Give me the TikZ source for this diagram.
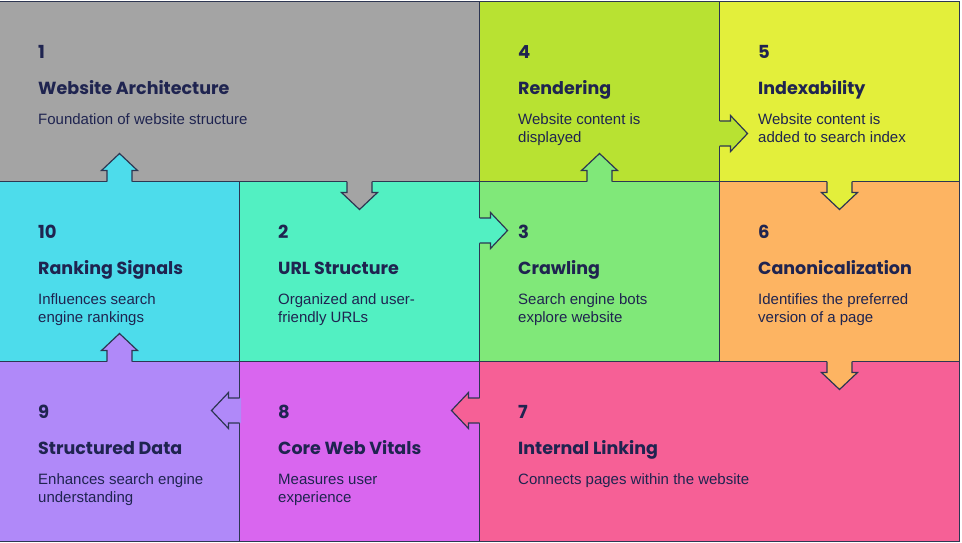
\documentclass[tikz,border=0pt]{standalone}
\usepackage{fontspec}
\setmainfont{Liberation Sans}
\newfontfamily\headfont{Poppins}
\usetikzlibrary{positioning,calc}
\definecolor{ink}{HTML}{1F2450}
\definecolor{edge}{HTML}{2D3652}
\definecolor{cgray}{HTML}{A4A4A4}
\definecolor{clime}{HTML}{B8E232}
\definecolor{cyellow}{HTML}{E3EF3B}
\definecolor{ccyan}{HTML}{4DDCEB}
\definecolor{cmint}{HTML}{52F0C2}
\definecolor{cgreen}{HTML}{80E879}
\definecolor{corange}{HTML}{FDB462}
\definecolor{clavender}{HTML}{B089F9}
\definecolor{cmagenta}{HTML}{D966EF}
\definecolor{cpink}{HTML}{F66096}

% block arrow crossing a cell border, base on the border
\newcommand{\tabarrow}[3]{%
  \fill[#3, shift={#1}, rotate=#2] (-1.5,12.5) -- (11,12.5) -- (11,18) -- (28,0)
    -- (11,-18) -- (11,-12.5) -- (-1.5,-12.5) -- cycle;
  \draw[edgeline, shift={#1}, rotate=#2] (0,12.5) -- (11,12.5) -- (11,18) -- (28,0)
    -- (11,-18) -- (11,-12.5) -- (0,-12.5);}

\begin{document}
\begin{tikzpicture}[x=1pt, y=-1pt,
  edgeline/.style={draw=edge, line width=1.2pt, line join=miter},
  cell/.style={edgeline, rectangle, inner sep=0pt, outer sep=0pt, minimum width=240pt, minimum height=180pt, anchor=north west},
  num/.style={anchor=base west, inner sep=0pt, text=ink, font=\headfont\bfseries\fontsize{18}{20}\selectfont},
  ttl/.style={anchor=base west, inner sep=0pt, text=ink, font=\headfont\bfseries\fontsize{17.5}{20}\selectfont},
  desc/.style={anchor=north west, inner sep=0pt, align=left, text=ink, font=\fontsize{15}{18}\selectfont},
]
  \useasboundingbox (0,0) rectangle (962,542);

  % cells
  \node[cell, fill=cgray, minimum width=480pt] (c1) at (-0.5,1.5) {};
  \node[cell, fill=clime] (c4) at (c1.north east) {};
  \node[cell, fill=cyellow] (c5) at (c4.north east) {};
  \node[cell, fill=ccyan] (c10) at (c1.south west) {};
  \node[cell, fill=cmint] (c2) at (c10.north east) {};
  \node[cell, fill=cgreen] (c3) at (c2.north east) {};
  \node[cell, fill=corange] (c6) at (c3.north east) {};
  \node[cell, fill=clavender] (c9) at (c10.south west) {};
  \node[cell, fill=cmagenta] (c8) at (c9.north east) {};
  \node[cell, fill=cpink, minimum width=480pt] (c7) at (c8.north east) {};

  % arrows between the steps
  \tabarrow{(c2.north)}{-90}{cgray}
  \tabarrow{($(c3.north west)+(0,49)$)}{0}{cmint}
  \tabarrow{(c3.north)}{90}{cgreen}
  \tabarrow{($(c5.north west)+(0,132)$)}{0}{clime}
  \tabarrow{(c6.north)}{-90}{cyellow}
  \tabarrow{(c6.south)}{-90}{corange}
  \tabarrow{($(c8.north east)+(0,49)$)}{180}{cpink}
  \tabarrow{($(c9.north east)+(0,49)$)}{180}{clavender}
  \tabarrow{(c10.south)}{90}{clavender}
  \tabarrow{(c10.north)}{90}{ccyan}

  % texts
  \foreach \c/\n/\t/\d in {
    c1/1/Website Architecture/{Foundation of website structure},
    c4/4/Rendering/{Website content is\\displayed},
    c5/5/Indexability/{Website content is\\added to search index},
    c10/10/Ranking Signals/{Influences search\\engine rankings},
    c2/2/URL Structure/{Organized and user-\\friendly URLs},
    c3/3/Crawling/{Search engine bots\\explore website},
    c6/6/Canonicalization/{Identifies the preferred\\version of a page},
    c9/9/Structured Data/{Enhances search engine\\understanding},
    c8/8/Core Web Vitals/{Measures user\\experience},
    c7/7/Internal Linking/{Connects pages within the website}} {
    \node[num] (\c-n) at ($(\c.north west)+(38.5,56.5)$) {\n};
    \node[ttl] (\c-t) at ($(\c.north west)+(38.5,92.5)$) {\t};
    \node[desc] (\c-d) at ($(\c.north west)+(38.5,110.4)$) {\strut\d};
  }
\end{tikzpicture}
\end{document}
